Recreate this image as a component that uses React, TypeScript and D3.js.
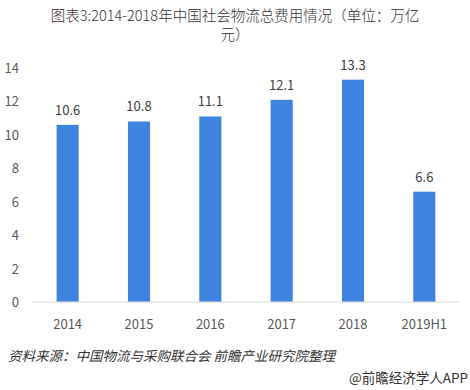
import React from "react";
import * as d3 from "d3";

const categories = ["2014", "2015", "2016", "2017", "2018", "2019H1"];
const values = [10.6, 10.8, 11.1, 12.1, 13.3, 6.6];
const yTicks = [0, 2, 4, 6, 8, 10, 12, 14];

const width = 470;
const height = 390;
const margin = { top: 68, right: 10, bottom: 88, left: 32 };

const App: React.FC = () => {
  const x = d3
    .scaleBand()
    .domain(categories)
    .range([margin.left, width - margin.right])
    .paddingInner(0.69)
    .paddingOuter(0.345);

  const y = d3
    .scaleLinear()
    .domain([0, 14])
    .range([height - margin.bottom, margin.top]);

  const font = "'Noto Sans CJK SC', 'Noto Sans', sans-serif";

  return (
    <svg
      width={width}
      height={height}
      style={{ position: "absolute", left: 0, top: 0, background: "#fff" }}
      fontFamily={font}
    >
      {/* Title */}
      <text x={235} y={21} textAnchor="middle" fontSize={14.5} fill="#333" fontWeight={300}>
        图表3:2014-2018年中国社会物流总费用情况（单位：万亿
      </text>
      <text x={235} y={40} textAnchor="middle" fontSize={14.5} fill="#333" fontWeight={300}>
        元）
      </text>

      {/* Y axis labels */}
      {yTicks.map((t) => (
        <text
          key={t}
          x={19}
          y={y(t) + 5}
          textAnchor="end"
          fontSize={13}
          fill="#595959"
        >
          {t}
        </text>
      ))}

      {/* Bars */}
      {categories.map((c, i) => (
        <rect
          key={c}
          x={x(c)}
          y={y(values[i])}
          width={x.bandwidth()}
          height={y(0) - y(values[i])}
          fill="#3f83e0"
        />
      ))}

      {/* Value labels */}
      {categories.map((c, i) => (
        <text
          key={c}
          x={(x(c) || 0) + x.bandwidth() / 2}
          y={y(values[i]) - 10}
          textAnchor="middle"
          fontSize={13}
          fill="#404040"
        >
          {values[i].toFixed(1)}
        </text>
      ))}

      {/* Baseline */}
      <line
        x1={margin.left}
        x2={width - margin.right}
        y1={y(0)}
        y2={y(0)}
        stroke="#d9d9d9"
      />

      {/* X labels */}
      {categories.map((c) => (
        <text
          key={c}
          x={(x(c) || 0) + x.bandwidth() / 2}
          y={y(0) + 27}
          textAnchor="middle"
          fontSize={13}
          fill="#595959"
        >
          {c}
        </text>
      ))}

      {/* Source */}
      <text
        x={8}
        y={361}
        fontSize={13.5}
        fontStyle="italic"
        fill="#333"
      >
        资料来源：中国物流与采购联合会 前瞻产业研究院整理
      </text>
      <text x={468} y={383} textAnchor="end" fontSize={13.5} fill="#333">
        @前瞻经济学人APP
      </text>
    </svg>
  );
};

export default App;
